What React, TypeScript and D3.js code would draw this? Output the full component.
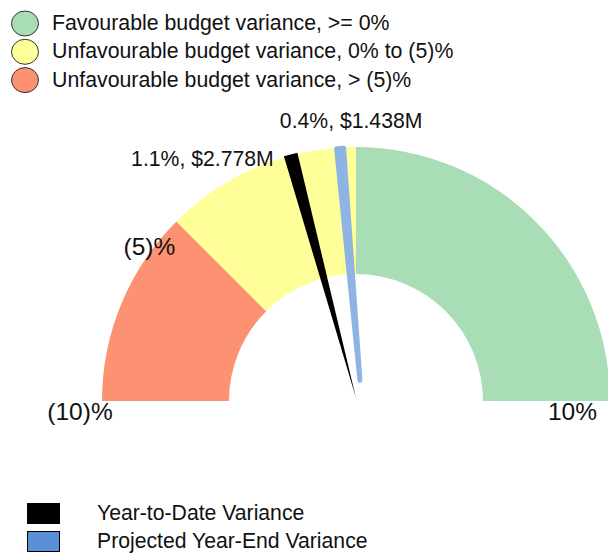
import React from 'react';
import * as d3 from 'd3';

// gauge bands, in % budget variance
const bandStarts = [-10, -5, 0];
const bandEnds = [-5, 0, 10];
const bandColors = ['#fc9272', '#ffff99', '#a8ddb5'];

const legendLabels = [
  'Favourable budget variance, >= 0%',
  'Unfavourable budget variance, 0% to (5)%',
  'Unfavourable budget variance, > (5)%',
];
const legendColors = ['#a8ddb5', '#ffff99', '#fc9272'];

const tickValues = [-10, -5, 10];
const tickLabels = ['(10)%', '(5)%', '10%'];

// needles: where they point on the scale, and their labels
const ytdValue = -1.65;
const ytdLabel = '1.1%, $2.778M';
const projValue = -0.4;
const projTailValue = 1.2;
const projLabel = '0.4%, $1.438M';

const needleLegend = ['Year-to-Date Variance', 'Projected Year-End Variance'];
const needleLegendColors = ['#000000', '#5a8fd6'];

const W = 608;
const H = 554;
const cx = 356;
const cy = 401;
const rOuter = 254;
const rInner = 127;
const font = 'Arial, "Liberation Sans", sans-serif';

const angle = d3.scaleLinear().domain([-10, 10]).range([-Math.PI / 2, Math.PI / 2]);

const polar = (v: number, r: number): [number, number] => {
  const a = angle(v);
  return [cx + r * Math.sin(a), cy - r * Math.cos(a)];
};

// tapered needle from top (on the outer rim) down to a tail point
const needlePath = (top: [number, number], tail: [number, number], halfW: number) => {
  const dx = tail[0] - top[0];
  const dy = tail[1] - top[1];
  const len = Math.hypot(dx, dy);
  const px = -dy / len;
  const py = dx / len;
  return `M${top[0] + px * halfW},${top[1] + py * halfW}L${top[0] - px * halfW},${top[1] - py * halfW}L${tail[0]},${tail[1]}Z`;
};

export default function App() {
  const arc = d3.arc<{ s: number; e: number }>()
    .innerRadius(rInner)
    .outerRadius(rOuter)
    .startAngle(d => angle(d.s))
    .endAngle(d => angle(d.e));

  const ytdTop = polar(ytdValue, 255);
  const ytdTail = polar(0, 3);
  const projTop = polar(projValue, 253);
  const projTail = polar(projTailValue, 21);

  // tick label placement (layout only)
  const tickPos = (v: number): { x: number; y: number; anchor: string } => {
    if (v === -10) return { x: polar(v, 276)[0], y: cy + 19, anchor: 'middle' };
    if (v === 10) return { x: W - 11, y: cy + 19, anchor: 'end' };
    const p = polar(v, rOuter);
    return { x: p[0] - 27, y: p[1] + 34, anchor: 'middle' };
  };

  return (
    <svg width={W} height={H} style={{ position: 'absolute', left: 0, top: 0 }} fontFamily={font}>
      {/* legend for the bands */}
      {legendLabels.map((t, i) => (
        <g key={t} transform={`translate(0, ${i * 28.3})`}>
          <ellipse cx={25} cy={23.5} rx={13.5} ry={12.5} fill={legendColors[i]} stroke="#333" strokeWidth={1} />
          <text x={52} y={30} fontSize={21.3} fill="#111">{t}</text>
        </g>
      ))}

      {/* gauge */}
      <g transform={`translate(${cx}, ${cy})`}>
        {bandStarts.map((s, i) => (
          <path key={i} d={arc({ s, e: bandEnds[i] }) || ''} fill={bandColors[i]} />
        ))}
      </g>

      {tickValues.map((v, i) => {
        const p = tickPos(v);
        return (
          <text key={v} x={p.x} y={p.y} fontSize={24.5} textAnchor={p.anchor} fill="#111">{tickLabels[i]}</text>
        );
      })}

      {/* needles */}
      <path d={needlePath(ytdTop, ytdTail, 7)} fill="#000" />
      <path
        d={needlePath(projTop, projTail, 3.5)}
        fill="#8eb4e3"
        stroke="#8eb4e3"
        strokeWidth={5}
        strokeLinejoin="round"
      />
      <text x={ytdTop[0] - 17} y={ytdTop[1] + 11} fontSize={21.2} textAnchor="end" fill="#111">{ytdLabel}</text>
      <text x={projTop[0] + 11} y={projTop[1] - 20} fontSize={21.2} textAnchor="middle" fill="#111">{projLabel}</text>

      {/* needle legend */}
      {needleLegend.map((t, i) => (
        <g key={t} transform={`translate(0, ${i * 28})`}>
          <rect x={27.5} y={503.5} width={32} height={20} fill={needleLegendColors[i]} stroke="#000" strokeWidth={1} />
          <text x={97} y={520} fontSize={21.2} fill="#111">{t}</text>
        </g>
      ))}
    </svg>
  );
}
